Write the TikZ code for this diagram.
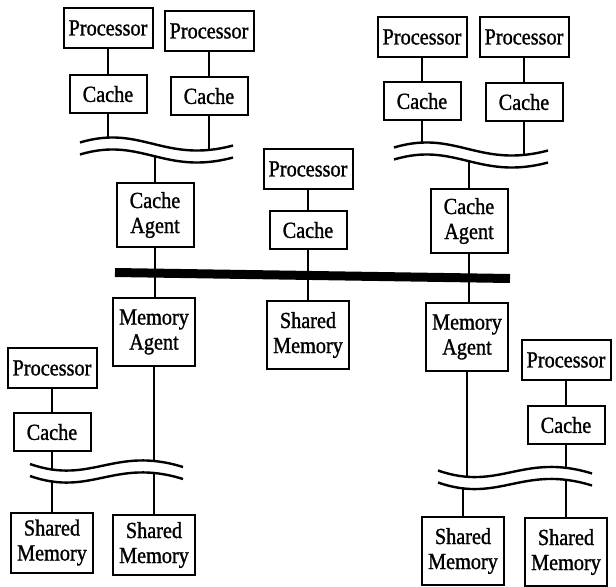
\documentclass[tikz,border=0pt]{standalone}
\usepackage{fontspec}
\setmainfont{Liberation Serif}[FakeStretch=0.88,FakeBold=1.2]
\usepackage{tikz}

\tikzset{
  unit/.style={draw, line width=1pt, inner sep=1pt, align=center,
    font=\fontsize{11.5}{12.5}\selectfont},
  proc/.style={unit, minimum width=44.5pt, minimum height=20pt},
  cache/.style={unit, minimum width=38.5pt, minimum height=19pt},
  cagent/.style={unit, minimum width=38.5pt, minimum height=32pt},
  magent/.style={unit, minimum width=41pt, minimum height=34pt},
  shmem/.style={unit, minimum width=41pt, minimum height=30pt},
  link/.style={line width=1pt},
  wave/.style={line width=1.2pt},
  bus/.style={line width=4.5pt},
}

% broken local bus: two wavy lines, white gap between them
% #1 left x, #2 upper y, #3 width, #4 sign of the swing
\newcommand\busbreak[4]{%
  \draw[white, line width=5pt] ({#1},{#2-4.5}) .. controls ({#1+0.4*#3},{#2-6+20*(#4)}) and ({#1+0.55*#3},{#2-6-20*(#4)}) .. ({#1+#3},{#2-7.5});
  \foreach \dy in {0,12}
    \draw[wave] ({#1},{#2+1.5-\dy}) .. controls ({#1+0.4*#3},{#2+20*(#4)-\dy}) and ({#1+0.55*#3},{#2-20*(#4)-\dy}) .. ({#1+#3},{#2-1.5-\dy});
}

\begin{document}
\begin{tikzpicture}[x=0.5pt,y=0.5pt,yscale=1,xscale=1]
\useasboundingbox (0,0) rectangle (616,586);

% upper left cluster
\node[proc] (procA) at (108,558) {Processor};
\node[proc] (procB) at (209,555) {Processor};
\node[cache] (cacheA) at (108,492) {Cache};
\node[cache] (cacheB) at (209,490) {Cache};
\node[cagent] (cagentL) at (155,371) {Cache\\Agent};
\node[magent] (magentL) at (154,254) {Memory\\Agent};

% middle
\node[proc] (procM) at (308,417) {Processor};
\node[cache] (cacheM) at (308,356) {Cache};
\node[shmem, minimum height=34pt] (memM) at (308,251) {Shared\\Memory};

% upper right cluster
\node[proc] (procC) at (422,549) {Processor};
\node[proc] (procD) at (524,549) {Processor};
\node[cache] (cacheC) at (422,485) {Cache};
\node[cache] (cacheD) at (524,484) {Cache};
\node[cagent] (cagentR) at (469,365) {Cache\\Agent};
\node[magent] (magentR) at (467,249) {Memory\\Agent};

% lower left cluster
\node[proc] (procE) at (52,218) {Processor};
\node[cache] (cacheE) at (52,154) {Cache};
\node[shmem] (memE) at (52,43.5) {Shared\\Memory};
\node[shmem] (memF) at (154,41) {Shared\\Memory};

% lower right cluster
\node[proc] (procF) at (566,226) {Processor};
\node[cache] (cacheF) at (566,161) {Cache};
\node[shmem, minimum height=34pt] (memG) at (463,35) {Shared\\Memory};
\node[shmem, minimum height=34pt] (memH) at (566,34) {Shared\\Memory};

% taps on the wavy buses
\coordinate (tapA) at (108,442.5);
\coordinate (tapB) at (209,430);
\coordinate (tapL) at (155,436);
\coordinate (tapC) at (422,437.5);
\coordinate (tapD) at (524,425);
\coordinate (tapR) at (469,431);
\coordinate (tapMR) at (467,103);
\coordinate (tapG) at (463,103.6);
\coordinate (busL) at (115,313.5);
\coordinate (busR) at (510,307.5);

% connections
\draw[link] (procA) -- (cacheA);
\draw[link] (procB) -- (cacheB);
\draw[link] (cacheA) -- (tapA);
\draw[link] (cacheB) -- (tapB);
\draw[link] (tapL) -- (cagentL);
\draw[link] (cagentL.south) -- (cagentL.south |- magentL.north);
\draw[link] (procM) -- (cacheM);
\draw[link] (cacheM) -- (memM);
\draw[link] (procC) -- (cacheC);
\draw[link] (procD) -- (cacheD);
\draw[link] (cacheC) -- (tapC);
\draw[link] (cacheD) -- (tapD);
\draw[link] (tapR) -- (cagentR);
\draw[link] (cagentR.south) -- (cagentR.south |- magentR.north);
\draw[link] (procE) -- (cacheE);
\draw[link] (cacheE) -- (memE);
\draw[link] (magentL) -- (memF);
\draw[link] (procF) -- (cacheF);
\draw[link] (cacheF) -- (memH);
\draw[link] (magentR) -- (tapMR);
\draw[link] (tapG) -- (memG);

% wavy local buses
\busbreak{80}{442}{153}{1}
\busbreak{394}{437}{154}{1}
\busbreak{30}{120.5}{153}{-1}
\busbreak{438}{114}{154}{-1}

% global bus
\draw[bus] (busL) -- (busR);
\end{tikzpicture}
\end{document}
